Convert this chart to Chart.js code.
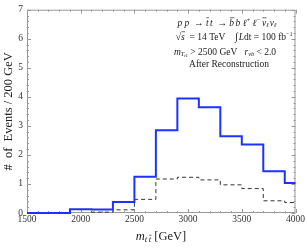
<!DOCTYPE html>
<html>
<head>
<meta charset="utf-8">
<script src="https://cdn.jsdelivr.net/npm/chart.js@4.4.1/dist/chart.umd.min.js"></script>
<style>
  html, body { margin: 0; padding: 0; background: #fff; }
  #wrap { width: 306px; height: 249px; }
</style>
</head>
<body>
<div id="wrap"><canvas id="chart"></canvas></div>
<script>
// bin left edges (last entry closes the final bin)
const binEdges = [1500, 1700, 1900, 2100, 2300, 2500, 2700, 2900, 3100, 3300, 3500, 3700, 3900, 4000];
const signal = [0, 0, 0.13, 0.12, 0.38, 1.25, 2.85, 3.94, 3.64, 2.64, 2.36, 1.44, 1.03];
const background = [0, 0, 0.12, 0.03, 0.11, 0.47, 1.17, 1.23, 1.14, 0.97, 0.84, 0.42, 0.36];
const xTicks = [1500, 2000, 2500, 3000, 3500, 4000];
const yTicks = [0, 1, 2, 3, 4, 5, 6, 7];

const SERIF = '"Liberation Serif", "DejaVu Serif", serif';

function toSteps(vals) {
    const pts = vals.map((v, i) => ({ x: binEdges[i], y: v }));
    pts.push({ x: binEdges[binEdges.length - 1], y: vals[vals.length - 1] });
    return pts;
}

// draw a line of mixed text runs centred on cx
function drawRuns(ctx, runs, cx, cy, size) {
    const fontOf = r => (r.it ? 'italic ' : '') + (size * (r.sc || 1)) + 'px ' + SERIF;
    let total = 0;
    runs.forEach(r => { ctx.font = fontOf(r); r.w = ctx.measureText(r.t).width; total += r.w + (r.gap || 0); });
    let x = cx - total / 2;
    ctx.textBaseline = 'middle';
    ctx.textAlign = 'left';
    runs.forEach(r => {
        ctx.font = fontOf(r);
        const y = cy + (r.dy || 0);
        ctx.fillText(r.t, x, y);
        if (r.bar) {
            ctx.beginPath();
            ctx.lineWidth = 0.7;
            ctx.moveTo(x + 0.5, y - size * (r.sc || 1) * 0.55);
            ctx.lineTo(x + r.w + 0.3, y - size * (r.sc || 1) * 0.55);
            ctx.stroke();
        }
        x += r.w + (r.gap || 0);
    });
}

const framePlugin = {
    id: 'frame',
    beforeDatasetsDraw(chart) {
        const { ctx, chartArea: a, scales } = chart;
        const xs = scales.x, ys = scales.y;
        ctx.save();
        ctx.strokeStyle = '#999';
        ctx.lineWidth = 1;
        ctx.strokeRect(a.left + 0.5, a.top + 0.5, a.right - a.left - 1, a.bottom - a.top - 1);
        ctx.beginPath();
        for (let v = 1500; v <= 4000; v += 100) {
            const px = Math.round(xs.getPixelForValue(v)) + 0.5;
            const len = v % 500 === 0 ? 4 : 2;
            ctx.moveTo(px, a.bottom); ctx.lineTo(px, a.bottom - len);
            ctx.moveTo(px, a.top); ctx.lineTo(px, a.top + len);
        }
        for (let k = 0; k <= 35; k++) {
            const v = k * 0.2;
            const py = Math.round(ys.getPixelForValue(v)) + 0.5;
            const len = k % 5 === 0 ? 4 : 2;
            ctx.moveTo(a.left, py); ctx.lineTo(a.left + len, py);
            ctx.moveTo(a.right, py); ctx.lineTo(a.right - len, py);
        }
        ctx.stroke();
        ctx.restore();
    },
    afterDraw(chart) {
        const { ctx } = chart;
        ctx.save();
        ctx.fillStyle = '#222';
        ctx.strokeStyle = '#222';
        const cx = 229;
        drawRuns(ctx, [
            { t: 'p p  \u2192 ', it: true },
            { t: 't', it: true, bar: true, gap: 1.5 },
            { t: 't  \u2192 ', it: true },
            { t: 'b', it: true, bar: true, gap: 1.5 },
            { t: 'b \u2113', it: true },
            { t: '+', sc: 0.65, dy: -3 },
            { t: ' \u2113', it: true },
            { t: '\u2212', sc: 0.65, dy: -3, gap: 2 },
            { t: '\u03bd', it: true, bar: true },
            { t: '\u2113', it: true, sc: 0.65, dy: 2, gap: 1 },
            { t: '\u03bd', it: true },
            { t: '\u2113', it: true, sc: 0.65, dy: 2 }
        ], cx - 2, 23, 9.5);
        drawRuns(ctx, [
            { t: '\u221a', sc: 1.1 },
            { t: 's', it: true, bar: true },
            { t: '  = 14 TeV    ' },
            { t: '\u222b', sc: 1.1, gap: 1 },
            { t: 'L', it: true },
            { t: 'dt = 100 fb' },
            { t: '\u22121', sc: 0.65, dy: -3 }
        ], cx + 5, 37, 9.5);
        drawRuns(ctx, [
            { t: 'm', it: true },
            { t: 'T', it: true, sc: 0.65, dy: 2 },
            { t: 't1', it: true, sc: 0.5, dy: 4 },
            { t: ' > 2500 GeV   ' },
            { t: 'r', it: true },
            { t: '\u03bdb', it: true, sc: 0.65, dy: 2 },
            { t: ' < 2.0' }
        ], cx - 4, 52, 9.5);
        drawRuns(ctx, [{ t: 'After Reconstruction' }], cx, 64, 9.5);

        // x axis title
        drawRuns(ctx, [
            { t: 'm', it: true, sc: 1 },
            { t: 't', it: true, sc: 0.7, dy: 3, gap: 1.5 },
            { t: 't', it: true, sc: 0.7, dy: 3, bar: true },
            { t: ' [GeV]' }
        ], 161, 237, 12.5);
        ctx.restore();
    }
};

new Chart(document.getElementById('chart'), {
    type: 'line',
    data: {
        datasets: [
            {
                label: 'signal',
                data: toSteps(signal),
                stepped: 'before',
                borderColor: 'rgb(30, 50, 255)',
                borderWidth: 2,
                pointRadius: 0,
                fill: false,
                clip: false,
                order: 1
            },
            {
                label: 'background',
                data: toSteps(background),
                stepped: 'before',
                borderColor: '#333',
                borderWidth: 1,
                borderDash: [4, 3],
                pointRadius: 0,
                fill: false,
                order: 2
            }
        ]
    },
    options: {
        responsive: true,
        maintainAspectRatio: false,
        animation: false,
        layout: { padding: { top: 5, right: 9, left: 1, bottom: 0 } },
        plugins: {
            legend: { display: false },
            tooltip: { enabled: false }
        },
        scales: {
            x: {
                type: 'linear',
                min: 1500,
                max: 4000,
                afterBuildTicks: s => { s.ticks = xTicks.map(v => ({ value: v })); },
                afterFit: s => { s.height = 36; },
                grid: { display: false, drawTicks: false },
                border: { display: false },
                ticks: {
                    padding: 1,
                    maxRotation: 0,
                    color: '#333',
                    font: { family: SERIF, size: 9.5 },
                    callback: v => String(v)
                }
            },
            y: {
                min: 0,
                max: 7,
                afterBuildTicks: s => { s.ticks = yTicks.map(v => ({ value: v })); },
                afterFit: s => { s.width = 26; },
                grid: { display: false, drawTicks: false },
                border: { display: false },
                title: {
                    display: true,
                    text: '#  of  Events / 200 GeV',
                    color: '#222',
                    padding: 0,
                    font: { family: SERIF, size: 12.5 }
                },
                ticks: {
                    padding: 4,
                    color: '#333',
                    font: { family: SERIF, size: 9.5 },
                    callback: v => String(v)
                }
            }
        }
    },
    plugins: [framePlugin]
});
</script>
</body>
</html>
